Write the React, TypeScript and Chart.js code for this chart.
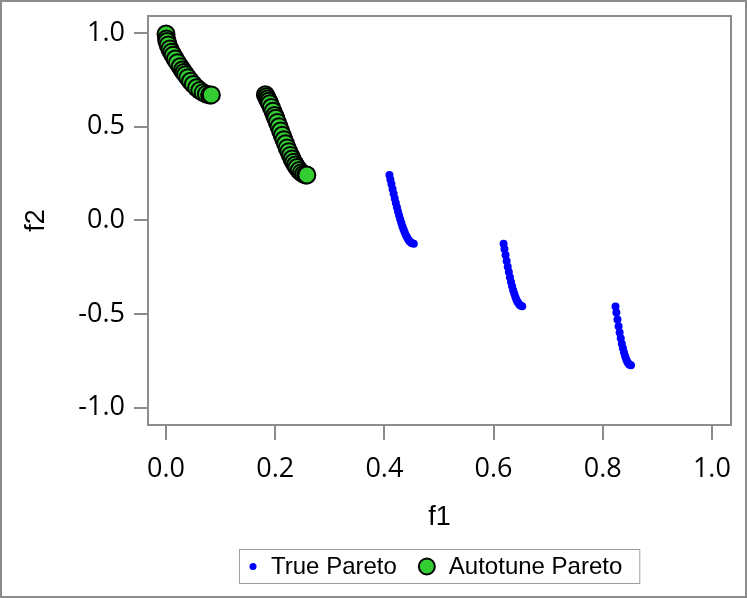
import { useEffect, useRef } from 'react';
import { Chart, registerables } from 'chart.js';
Chart.register(...registerables);

// True Pareto front points (f1, f2)
const trueF1 = [
  0.4093, 0.411, 0.413, 0.415, 0.417, 0.419, 0.421, 0.423, 0.425, 0.427, 0.429, 0.431, 0.433, 0.435, 0.437, 0.439, 0.441, 0.443, 0.445, 0.447, 0.449, 0.451, 0.4539,
  0.6184, 0.620, 0.622, 0.624, 0.626, 0.628, 0.630, 0.632, 0.634, 0.636, 0.638, 0.640, 0.642, 0.644, 0.646, 0.648, 0.650, 0.6525,
  0.8234, 0.825, 0.827, 0.829, 0.831, 0.833, 0.835, 0.837, 0.839, 0.841, 0.843, 0.845, 0.847, 0.849, 0.8518,
];
const trueF2 = [
  0.242, 0.219, 0.194, 0.167, 0.142, 0.117, 0.093, 0.070, 0.048, 0.026, 0.006, -0.013, -0.031, -0.047, -0.062, -0.076, -0.087, -0.098, -0.107, -0.114, -0.119, -0.122, -0.124,
  -0.124, -0.152, -0.185, -0.217, -0.247, -0.276, -0.303, -0.329, -0.352, -0.373, -0.392, -0.409, -0.423, -0.435, -0.444, -0.452, -0.456, -0.458,
  -0.460, -0.491, -0.529, -0.565, -0.598, -0.629, -0.658, -0.683, -0.705, -0.725, -0.741, -0.755, -0.764, -0.770, -0.773,
];

// Autotune Pareto points (f1, f2)
const autoF1 = [
  0.0, 0.001, 0.002, 0.004, 0.007, 0.01, 0.013, 0.017, 0.021, 0.026, 0.03, 0.033, 0.036, 0.04, 0.045, 0.05, 0.056, 0.062, 0.068, 0.074, 0.08, 0.083,
  0.182, 0.184, 0.186, 0.188, 0.19, 0.193, 0.196, 0.199, 0.201, 0.204, 0.207, 0.21, 0.213, 0.216, 0.219, 0.222, 0.225, 0.228, 0.231, 0.234, 0.237, 0.24, 0.244, 0.248, 0.252, 0.256, 0.258,
];
const autoF2 = [
  0.995, 0.968, 0.955, 0.936, 0.915, 0.897, 0.881, 0.861, 0.842, 0.820, 0.803, 0.790, 0.778, 0.762, 0.743, 0.726, 0.708, 0.693, 0.682, 0.674, 0.670, 0.670,
  0.671, 0.660, 0.648, 0.636, 0.623, 0.603, 0.582, 0.560, 0.545, 0.523, 0.500, 0.477, 0.454, 0.431, 0.409, 0.387, 0.367, 0.347, 0.328, 0.311, 0.296, 0.282, 0.266, 0.255, 0.247, 0.243, 0.242,
];

const xTicks = [0.0, 0.2, 0.4, 0.6, 0.8, 1.0];
const yTicks = [-1.0, -0.5, 0.0, 0.5, 1.0];
const xTitle = 'f1';
const yTitle = 'f2';
const seriesNames = ['True Pareto', 'Autotune Pareto'];

const GREY = '#8c8c8c';
const BLUE = '#0000ff';
const GREEN = '#33cc33';
const TICK_FONT = '"Open Sans", "Noto Sans", sans-serif';
const TEXT_FONT = '"Liberation Sans", Arial, sans-serif';

export default function App() {
  const ref = useRef<HTMLCanvasElement | null>(null);

  useEffect(() => {
    document.body.style.margin = '0';
    const canvas = ref.current;
    if (!canvas) return;

    const decor = {
      id: 'decor',
      afterDraw(chart: any) {
        const ctx = chart.ctx as CanvasRenderingContext2D;
        const a = chart.chartArea;
        ctx.save();
        // plot frame
        ctx.strokeStyle = GREY;
        ctx.lineWidth = 2;
        ctx.strokeRect(a.left, a.top, a.right - a.left, a.bottom - a.top);
        // outer border
        ctx.strokeRect(1, 1, chart.width - 2, chart.height - 2);

        // axis titles
        ctx.fillStyle = '#000';
        ctx.font = `27px ${TEXT_FONT}`;
        ctx.textAlign = 'center';
        ctx.textBaseline = 'middle';
        ctx.fillText(xTitle, (a.left + a.right) / 2, 518);
        ctx.save();
        ctx.translate(37, (a.top + a.bottom) / 2);
        ctx.rotate(-Math.PI / 2);
        ctx.fillText(yTitle, 0, 0);
        ctx.restore();

        // legend
        ctx.font = `24px ${TEXT_FONT}`;
        const w1 = ctx.measureText(seriesNames[0]).width;
        const w2 = ctx.measureText(seriesNames[1]).width;
        const padL = 14, gapT = 18, itemGap = 30, gapT2 = 22, padR = 17;
        const total = padL + gapT + w1 + itemGap + gapT2 + w2 + padR;
        const bx = Math.round((a.left + a.right) / 2 - total / 2);
        const by = 549, bh = 34;
        ctx.strokeStyle = '#a0a0a0';
        ctx.lineWidth = 1;
        ctx.strokeRect(bx + 0.5, by + 0.5, total, bh);
        const cy = by + bh / 2 + 0.5;
        let x = bx + padL;
        ctx.fillStyle = BLUE;
        ctx.beginPath();
        ctx.arc(x, cy, 3.5, 0, Math.PI * 2);
        ctx.fill();
        ctx.fillStyle = '#000';
        ctx.textAlign = 'left';
        ctx.fillText(seriesNames[0], x + gapT, cy + 1);
        x = x + gapT + w1 + itemGap;
        ctx.fillStyle = GREEN;
        ctx.strokeStyle = '#000';
        ctx.lineWidth = 2;
        ctx.beginPath();
        ctx.arc(x, cy, 8, 0, Math.PI * 2);
        ctx.fill();
        ctx.stroke();
        ctx.fillStyle = '#000';
        ctx.fillText(seriesNames[1], x + gapT2, cy + 1);
        ctx.restore();
      },
    };

    const chart = new Chart(canvas, {
      type: 'scatter',
      data: {
        datasets: [
          {
            label: seriesNames[1],
            data: autoF1.map((v, i) => ({ x: v, y: autoF2[i] })),
            pointRadius: 8.5,
            pointHoverRadius: 8.5,
            backgroundColor: GREEN,
            borderColor: '#000',
            pointBorderWidth: 2,
            borderWidth: 2,
          },
          {
            label: seriesNames[0],
            data: trueF1.map((v, i) => ({ x: v, y: trueF2[i] })),
            pointRadius: 4,
            pointHoverRadius: 4,
            backgroundColor: BLUE,
            borderColor: BLUE,
            borderWidth: 0,
            pointBorderWidth: 0,
          },
        ],
      },
      options: {
        animation: false,
        responsive: false,
        devicePixelRatio: 1,
        events: [],
        layout: { padding: { left: 0, top: 16, right: 16, bottom: 0 } },
        plugins: { legend: { display: false }, tooltip: { enabled: false } },
        scales: {
          x: {
            type: 'linear',
            min: -0.033,
            max: 1.035,
            afterFit: (s: any) => {
              s.height = 598 - 16 - 409;
              s.paddingLeft = 0;
              s.paddingRight = 0;
            },
            afterBuildTicks: (s: any) => { s.ticks = xTicks.map((v) => ({ value: v })); },
            grid: { drawOnChartArea: false, drawTicks: true, tickLength: 15, tickColor: GREY, lineWidth: 2 },
            border: { display: false },
            ticks: {
              color: '#000',
              font: { family: TICK_FONT, size: 27 },
              padding: 13,
              maxRotation: 0,
              callback: (v: any) => Number(v).toFixed(1),
            },
          },
          y: {
            type: 'linear',
            min: -1.092,
            max: 1.091,
            afterFit: (s: any) => {
              s.width = 148;
              s.paddingTop = 0;
              s.paddingBottom = 0;
            },
            afterBuildTicks: (s: any) => { s.ticks = yTicks.map((v) => ({ value: v })); },
            grid: { drawOnChartArea: false, drawTicks: true, tickLength: 14, tickColor: GREY, lineWidth: 2 },
            border: { display: false },
            ticks: {
              color: '#000',
              font: { family: TICK_FONT, size: 27 },
              padding: 9,
              callback: (v: any) => Number(v).toFixed(1),
            },
          },
        },
      },
      plugins: [decor],
    });
    return () => chart.destroy();
  }, []);

  return (
    <div style={{ width: 747, height: 598, position: 'relative', background: '#fff' }}>
      <canvas ref={ref} width={747} height={598} />
    </div>
  );
}
